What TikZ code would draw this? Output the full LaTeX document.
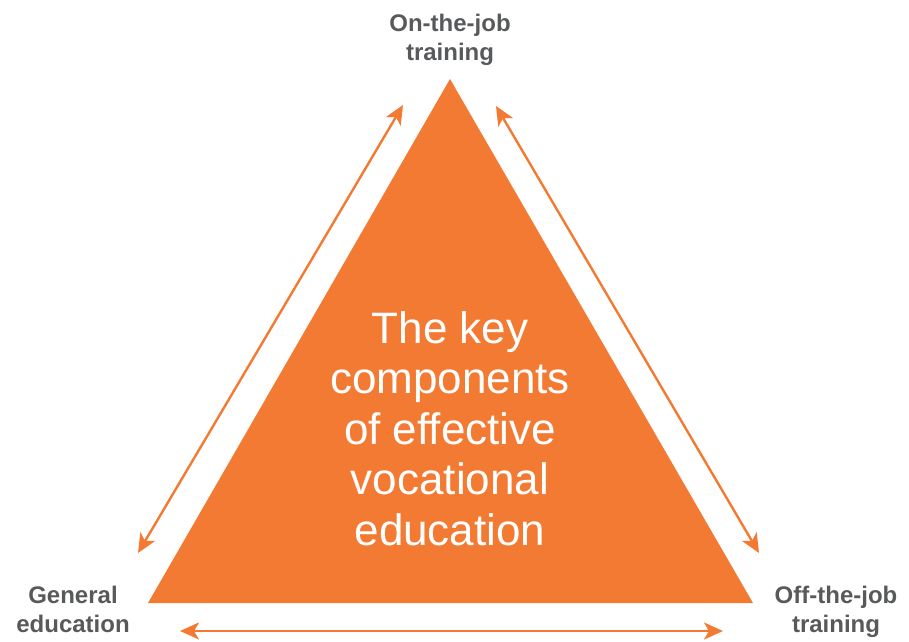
\documentclass[tikz,border=0pt]{standalone}
\usepackage{fontspec}
\setmainfont{Liberation Sans}
\usetikzlibrary{arrows.meta}
\definecolor{vocorange}{HTML}{F37A32}
\definecolor{labelgray}{HTML}{58595B}
\begin{document}
\begin{tikzpicture}[x=1pt,y=-1pt,
  link/.style={draw=vocorange, line width=2.4pt,
    {Stealth[length=19pt,width=17pt,inset=5pt]}-{Stealth[length=19pt,width=17pt,inset=5pt]}},
  cornerlabel/.style={text=labelgray, font=\fontsize{24}{28.5}\selectfont\bfseries,
    align=center, inner sep=0pt, anchor=base},
  centrelabel/.style={text=white, font=\fontsize{44}{50.5}\selectfont,
    align=center, inner sep=0pt, anchor=base}]
  \useasboundingbox (0,0) rectangle (909,641);

  % the central triangle
  \coordinate (apex) at (450,79);
  \coordinate (baseL) at (148,603);
  \coordinate (baseR) at (753,603);
  \fill[vocorange] (apex) -- (baseL) -- (baseR) -- cycle;

  % text inside the triangle (anchored on the baseline of its last line)
  \node[centrelabel] (centre) at (450,545)
    {The key\\components\\of effective\\vocational\\education};

  % corner labels
  \node[cornerlabel] (ojt) at (450,60) {On-the-job\\training};
  \node[cornerlabel] (gen) at (73,632) {General\\education};
  \node[cornerlabel] (off) at (836,632) {Off-the-job\\training};

  % two-way links along the sides
  \coordinate (lt) at (403,105);
  \coordinate (lb) at (138,553);
  \coordinate (rt) at (496,106);
  \coordinate (rb) at (759,553);
  \coordinate (bl) at (180,631);
  \coordinate (br) at (723,631);
  \draw[link] (lt) -- (lb);
  \draw[link] (rt) -- (rb);
  \draw[link] (bl) -- (br);
\end{tikzpicture}
\end{document}
